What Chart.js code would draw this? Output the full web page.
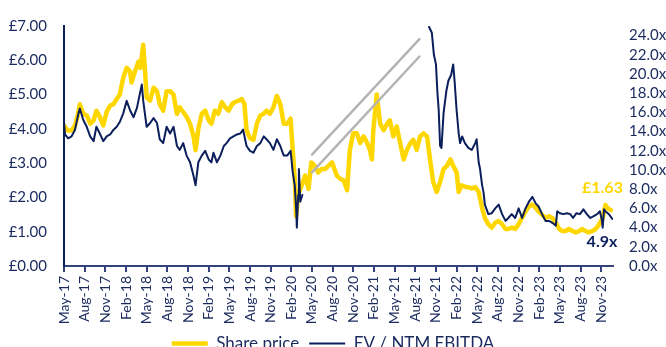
<!DOCTYPE html>
<html>
<head>
<meta charset="utf-8">
<script src="https://cdn.jsdelivr.net/npm/chart.js@4"></script>
<style>
  html, body { margin: 0; padding: 0; background: #ffffff; overflow: hidden; }
  #wrap { position: relative; width: 666px; height: 362px; }
</style>
</head>
<body>
<div id="wrap"><canvas id="c"></canvas></div>
<script>
// ---- Data (x = months elapsed since 1 May 2017) ----
const tickLabels = ["May-17","Aug-17","Nov-17","Feb-18","May-18","Aug-18","Nov-18","Feb-19","May-19","Aug-19",
  "Nov-19","Feb-20","May-20","Aug-20","Nov-20","Feb-21","May-21","Aug-21","Nov-21","Feb-22","May-22",
  "Aug-22","Nov-22","Feb-23","May-23","Aug-23","Nov-23"];
const priceTicks = [0, 1, 2, 3, 4, 5, 6, 7];
const multipleTicks = [0, 2, 4, 6, 8, 10, 12, 14, 16, 18, 20, 22, 24];

const priceMonths = [
  0,0.5,1.1,1.6,2.0,2.3,2.8,3.3,3.8,4.3,
  4.7,5.2,5.7,6.2,6.7,7.2,7.65,8.1,8.6,9.1,
  9.6,9.8,10.3,10.8,11.1,11.5,11.8,12.0,12.5,13.0,
  13.5,13.9,14.4,14.9,15.4,15.9,16.4,16.8,17.3,17.8,
  18.3,18.8,19.1,19.5,20.0,20.5,21.0,21.4,21.9,22.4,
  22.9,23.4,23.9,24.4,24.8,25.3,25.8,26.2,26.5,27.0,
  27.5,28.0,28.5,29.0,29.4,29.9,30.4,30.9,31.4,31.9,
  32.4,32.9,33.2,33.5,33.7,34.0,34.5,35.0,35.5,35.9,
  36.4,36.9,37.4,37.9,38.4,38.9,39.1,39.6,40.1,40.6,
  41.1,41.5,42.0,42.5,43.0,43.5,44.0,44.4,44.7,44.9,
  45.4,45.9,46.4,46.9,47.3,47.8,48.3,48.8,49.3,49.8,
  50.3,50.7,51.2,51.7,52.2,52.7,53.2,53.6,54.1,54.6,
  55.1,55.6,56.1,56.5,57.0,57.3,57.7,58.4,58.7,59.2,
  59.7,60.2,60.7,61.1,61.6,62.1,62.6,63.1,63.6,64.1,
  64.5,65.0,65.5,66.0,66.5,67.0,67.5,68.0,68.5,68.9,
  69.4,69.9,70.4,70.9,71.4,71.9,72.3,72.8,73.3,73.8,
  74.3,74.8,75.2,75.7,76.2,76.7,77.2,77.7,78.2,78.6,
  78.9,79.4
];
const sharePrice = [
  4.10,3.95,3.95,4.10,4.40,4.72,4.44,4.39,4.15,4.25,
  4.53,4.35,4.10,4.50,4.68,4.72,4.87,5.00,5.49,5.78,
  5.67,5.35,5.67,5.96,5.78,6.45,5.58,4.92,4.82,5.20,
  5.10,4.72,4.53,5.10,5.10,5.00,4.44,4.63,4.49,4.35,
  4.15,3.78,3.38,4.00,4.44,4.53,4.25,4.15,4.53,4.44,
  4.78,4.63,4.53,4.72,4.78,4.82,4.87,4.72,3.96,3.73,
  3.68,4.15,4.39,4.44,4.53,4.44,4.63,4.96,4.72,4.15,
  4.15,4.30,3.39,2.54,1.45,2.07,2.35,2.64,2.25,3.02,
  2.92,2.73,2.83,2.83,2.92,3.02,2.92,2.64,2.54,2.50,
  2.21,3.39,3.87,3.87,3.59,3.78,3.59,3.39,3.11,3.96,
  5.00,4.15,3.96,4.15,4.25,3.78,4.07,3.59,3.11,3.39,
  3.59,3.68,3.39,3.78,3.87,3.78,3.02,2.45,2.16,2.45,
  2.83,2.92,3.11,2.92,2.73,2.16,2.35,2.30,2.30,2.26,
  2.30,2.16,1.69,1.40,1.22,1.12,1.26,1.31,1.22,1.08,
  1.08,1.12,1.08,1.22,1.40,1.59,1.74,1.79,1.69,1.59,
  1.50,1.40,1.45,1.40,1.26,1.08,1.02,1.02,1.08,1.02,
  0.98,1.02,1.08,1.02,0.98,1.02,1.08,1.22,1.40,1.78,
  1.69,1.63
];

const evMonths = [
  0,0.15,0.6,1.1,1.6,2.1,2.3,2.8,3.3,3.8,
  4.3,4.7,5.2,5.7,6.2,6.7,7.2,7.65,8.1,8.6,
  9.1,9.6,10.1,10.6,11.0,11.3,11.5,12.0,12.5,13.0,
  13.5,13.9,14.4,14.9,15.4,15.9,16.4,16.8,17.3,17.8,
  18.3,18.8,19.1,19.5,20.0,20.5,21.0,21.4,21.7,22.2,
  22.7,23.2,23.6,24.1,24.6,25.1,25.6,26.0,26.5,27.0,
  27.5,28.0,28.5,29.0,29.4,29.9,30.4,30.9,31.4,31.9,
  32.4,32.9,33.2,33.5,33.7,33.8,34.0,34.1,34.3,34.6,
  44.0,
  53.0,53.4,53.7,54.0,54.2,54.4,54.6,54.8,55.1,55.5,
  55.8,56.2,56.5,56.7,57.0,57.3,57.5,57.8,58.2,58.7,
  59.2,59.7,59.9,60.2,60.4,60.7,60.9,61.1,61.6,62.1,
  62.6,63.1,63.6,64.1,64.5,65.0,65.5,66.0,66.5,67.0,
  67.5,68.0,68.5,68.9,69.4,69.9,70.4,70.9,71.4,71.6,
  72.0,72.5,73.0,73.5,73.9,74.4,74.9,75.4,75.9,76.4,
  76.9,77.4,77.8,78.1,78.2,78.4,78.6,79.1,79.6
];
const evNtmEbitda = [
  15.0,13.7,13.3,13.5,14.2,15.9,16.4,15.2,14.5,13.5,
  13.0,14.5,13.8,13.0,13.5,13.7,14.2,14.5,15.0,15.9,
  17.2,16.2,15.5,16.5,17.9,18.9,17.2,14.5,14.9,15.4,
  14.9,13.2,12.8,14.5,13.8,14.5,12.5,12.1,12.8,11.5,
  10.8,9.4,8.4,10.8,11.5,12.0,11.1,10.8,11.8,10.8,
  11.5,12.5,12.8,13.3,13.5,13.7,13.8,14.2,12.5,12.0,
  11.8,12.5,12.8,13.5,13.2,12.8,12.1,13.2,12.5,11.5,
  11.5,12.0,9.8,8.4,6.0,4.0,7.4,10.1,6.7,7.4,
  null,
  24.9,24.3,22.0,21.0,18.2,16.2,12.5,12.3,15.9,18.2,
  19.3,19.9,21.0,19.3,16.2,13.8,12.8,13.5,12.8,12.3,
  12.1,12.8,13.2,10.8,10.1,8.4,7.7,6.4,5.4,5.5,
  6.0,6.4,5.4,4.7,5.0,5.4,5.0,6.0,5.0,6.0,
  6.7,7.2,6.5,6.2,5.4,4.7,4.7,4.5,4.2,5.7,
  5.5,5.4,5.5,5.4,5.0,5.5,5.4,5.9,5.4,5.0,
  5.2,5.4,5.7,4.7,4.0,5.9,5.7,5.4,4.9
];

// Axis-break marker lines (share-price units, month units)
const breakMonths = [36.0, 51.6];
const breakUpper = [3.25, 6.62];
const breakLower = [2.73, 6.11];

// ---- Styling ----
const NAVY = '#0b1f5c';
const TEXT = '#1a2a5e';
const YELLOW = '#ffd700';
const GREY = '#b4b4b4';
const FONT = 'Lato';

const toXY = (xs, ys) => xs.map((x, i) => ({ x: x, y: ys[i] }));

const endLabels = {
  id: 'endLabels',
  afterDatasetsDraw(chart) {
    const ctx = chart.ctx;
    const xs = chart.scales.x, yl = chart.scales.yL, yr = chart.scales.yR;
    const pLast = sharePrice[sharePrice.length - 1];
    const pX = xs.getPixelForValue(priceMonths[priceMonths.length - 1]);
    const pY = yl.getPixelForValue(pLast);
    const eLast = evNtmEbitda[evNtmEbitda.length - 1];
    const eX = xs.getPixelForValue(evMonths[evMonths.length - 1]);
    const eY = yr.getPixelForValue(eLast);
    ctx.save();
    ctx.font = 'bold 16px ' + FONT;
    ctx.textAlign = 'right';
    ctx.textBaseline = 'middle';
    ctx.fillStyle = YELLOW;
    ctx.fillText('£' + pLast.toFixed(2), pX + 12, pY - 22);
    ctx.fillStyle = NAVY;
    ctx.fillText(eLast.toFixed(1) + 'x', eX + 5, eY + 23);
    ctx.restore();
  }
};

new Chart(document.getElementById('c'), {
  type: 'line',
  data: {
    datasets: [
      { label: 'Share price', data: toXY(priceMonths, sharePrice), yAxisID: 'yL',
        borderColor: YELLOW, backgroundColor: YELLOW, borderWidth: 4.5, order: 3 },
      { label: 'EV / NTM EBITDA', data: toXY(evMonths, evNtmEbitda), yAxisID: 'yR',
        borderColor: NAVY, backgroundColor: NAVY, borderWidth: 2, order: 2, spanGaps: false },
      { label: 'break1', data: toXY(breakMonths, breakUpper), yAxisID: 'yL',
        borderColor: GREY, borderWidth: 2.5, order: 1 },
      { label: 'break2', data: toXY(breakMonths, breakLower), yAxisID: 'yL',
        borderColor: GREY, borderWidth: 2.5, order: 1 }
    ]
  },
  options: {
    responsive: true,
    maintainAspectRatio: false,
    devicePixelRatio: 1,
    animation: false,
    layout: { padding: { top: 20, left: 0, right: 0, bottom: 0 } },
    elements: { point: { radius: 0, hoverRadius: 0 }, line: { tension: 0, borderCapStyle: 'round', borderJoinStyle: 'round' } },
    plugins: {
      tooltip: { enabled: false },
      legend: {
        position: 'bottom',
        labels: {
          usePointStyle: true, pointStyle: 'line', pointStyleWidth: 36,
          color: TEXT, font: { family: FONT, size: 17 }, padding: 10,
          filter: (item) => item.datasetIndex < 2,
          sort: (a, b) => a.datasetIndex - b.datasetIndex
        }
      }
    },
    scales: {
      x: {
        type: 'linear', min: 0, max: 79.7,
        grid: { display: true, drawOnChartArea: false, drawTicks: true, tickLength: 6, color: '#34447a', lineWidth: 2 },
        border: { display: true, color: '#34447a', width: 2 },
        ticks: {
          autoSkip: false, maxRotation: 90, minRotation: 90, padding: 4,
          color: TEXT, font: { family: FONT, size: 14 },
          callback: (v) => tickLabels[Math.round(v / 3)]
        },
        afterBuildTicks: (s) => { s.ticks = tickLabels.map((l, i) => ({ value: i * 3 })); },
        afterFit: (s) => { s.height = 59; }
      },
      yL: {
        position: 'left', min: 0, max: 7,
        grid: { display: false, drawTicks: false },
        border: { display: true, color: NAVY, width: 2 },
        ticks: { autoSkip: false, padding: 17, color: TEXT, font: { family: FONT, size: 15 },
          callback: (v) => '£' + Number(v).toFixed(2) },
        afterBuildTicks: (s) => { s.ticks = priceTicks.map(v => ({ value: v })); },
        afterFit: (s) => { s.width = 64; }
      },
      yR: {
        position: 'right', min: 0, max: 25,
        grid: { display: false, drawTicks: false },
        border: { display: false },
        ticks: { autoSkip: false, padding: 16, color: TEXT, font: { family: FONT, size: 15 },
          callback: (v) => Number(v).toFixed(1) + 'x' },
        afterBuildTicks: (s) => { s.ticks = multipleTicks.map(v => ({ value: v })); },
        afterFit: (s) => { s.width = 53; }
      }
    }
  },
  plugins: [endLabels]
});
</script>
</body>
</html>
